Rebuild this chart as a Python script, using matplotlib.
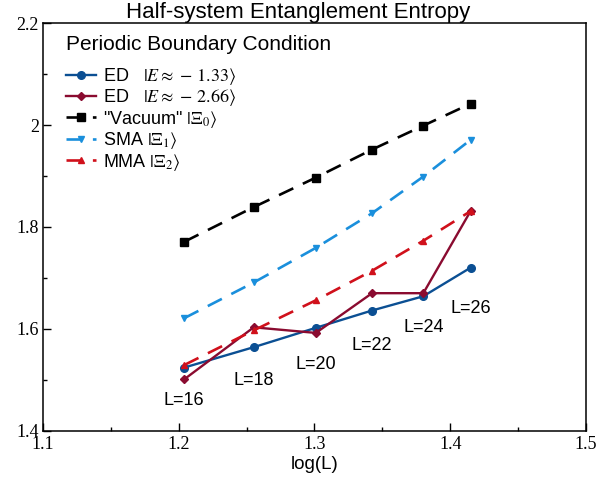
import numpy as np
import matplotlib
matplotlib.use("Agg")
import matplotlib.pyplot as plt
from matplotlib.ticker import MultipleLocator

plt.rcParams['mathtext.fontset'] = 'stix'
plt.rcParams['font.family'] = ['Liberation Sans', 'DejaVu Sans']

L = np.array([16, 18, 20, 22, 24, 26])
x = np.log10(L)
ed1 = [1.524, 1.564, 1.602, 1.636, 1.664, 1.720]
ed2 = [1.501, 1.603, 1.592, 1.670, 1.670, 1.831]
vac = [1.771, 1.839, 1.897, 1.952, 1.999, 2.042]
sma = [1.621, 1.691, 1.759, 1.827, 1.899, 1.971]
mma = [1.529, 1.597, 1.656, 1.714, 1.773, 1.831]
labels = ["L=%d" % l for l in L]

fig = plt.figure(figsize=(5.96, 4.83), dpi=100)
ax = fig.add_axes([0.0721, 0.1083, 0.9110, 0.8435])

ax.plot(x, ed1, '-o', color='#0b4f93', lw=1.7, ms=5.5, label=r'ED   $|E\approx\,-\,1.33\rangle$')
ax.plot(x, ed2, '-D', color='#8a0b30', lw=1.7, ms=4, label=r'ED   $|E\approx\,-\,2.66\rangle$')
ax.plot(x, vac, '--s', color='black', lw=1.9, ms=5.2, dashes=(6, 4), label=r'"Vacuum" $|\Xi_0\rangle$')
ax.plot(x, sma, '--v', color='#1a8fdc', lw=1.9, ms=4.8, dashes=(6, 4), label=r'SMA $|\Xi_1\rangle$')
ax.plot(x, mma, '--^', color='#d0101b', lw=1.9, ms=4.8, dashes=(6, 4), label=r'MMA $|\Xi_2\rangle$')

offs = [-0.065, -0.066, -0.073, -0.069, -0.062, -0.080]
for xi, yi, lab, o in zip(x, ed1, labels, offs):
    ax.text(xi, yi + o, lab, ha='center', va='center', fontsize=13)

ax.set_xlim(1.1, 1.5)
ax.set_ylim(1.4, 2.2)
ax.set_xticks([1.1, 1.2, 1.3, 1.4, 1.5])
ax.set_xticklabels(['1.1', '1.2', '1.3', '1.4', '1.5'])
ax.set_yticks([1.4, 1.6, 1.8, 2.0, 2.2])
ax.set_yticklabels(['1.4', '1.6', '1.8', '2', '2.2'])
ax.xaxis.set_minor_locator(MultipleLocator(0.05))
ax.yaxis.set_minor_locator(MultipleLocator(0.1))
ax.tick_params(which='both', direction='in', width=1)
ax.tick_params(which='major', length=5.5)
ax.tick_params(which='minor', length=3)
ax.tick_params(axis='x', which='major', pad=4)
ax.tick_params(axis='y', which='major', pad=3)
for t in ax.get_xticklabels() + ax.get_yticklabels():
    t.set_fontfamily('Liberation Serif')
    t.set_fontsize(13)
for s in ax.spines.values():
    s.set_linewidth(1.1)

ax.set_xlabel('log(L)', fontsize=13.5, labelpad=2)
ax.set_title('Half-system Entanglement Entropy', fontsize=16, pad=2, x=0.4705)

ax.text(0.042, 0.949, 'Periodic Boundary Condition', transform=ax.transAxes,
        ha='left', va='center', fontsize=15)
leg = ax.legend(loc='upper left', bbox_to_anchor=(0.042, 0.895), frameon=False, fontsize=13,
                handlelength=1.65, handletextpad=0.4, labelspacing=0.02,
                borderaxespad=0, borderpad=0)

fig.savefig('out.png', dpi=100)
